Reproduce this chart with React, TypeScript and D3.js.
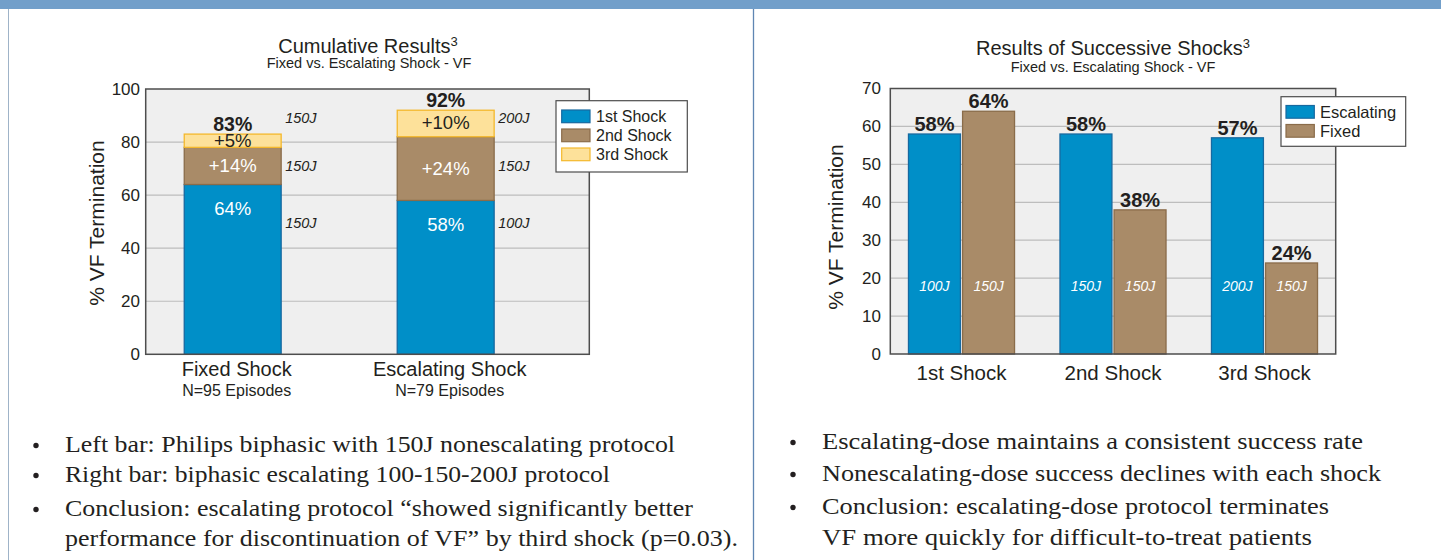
import React from 'react';
import * as d3 from 'd3';

// left chart: cumulative results
const cumCategories = ['Fixed Shock', 'Escalating Shock'];
const cumEpisodes = ['N=95 Episodes', 'N=79 Episodes'];
const cumShocks = ['1st Shock', '2nd Shock', '3rd Shock'];
const cumFirst = [64, 58];
const cumSecond = [14, 24];
const cumThird = [5, 10];
const cumDoses = [
  ['150J', '150J', '150J'],
  ['100J', '150J', '200J'],
];
const cumTicks = [0, 20, 40, 60, 80, 100];

// right chart: successive shocks
const succCategories = ['1st Shock', '2nd Shock', '3rd Shock'];
const succSeries = ['Escalating', 'Fixed'];
const succEscalating = [58, 58, 57];
const succFixed = [64, 38, 24];
const succEscDose = ['100J', '150J', '200J'];
const succFixedDose = ['150J', '150J', '150J'];
const succTicks = [0, 10, 20, 30, 40, 50, 60, 70];

const leftBullets = [
  ['Left bar: Philips biphasic with 150J nonescalating protocol'],
  ['Right bar: biphasic escalating 100-150-200J protocol'],
  ['Conclusion: escalating protocol \u201Cshowed significantly better', 'performance for discontinuation of VF\u201D by third shock (p=0.03).'],
];
const rightBullets = [
  ['Escalating-dose maintains a consistent success rate'],
  ['Nonescalating-dose success declines with each shock'],
  ['Conclusion: escalating-dose protocol terminates', 'VF more quickly for difficult-to-treat patients'],
];
// measured line widths of the bullet text in the reference
const leftWidths = [[610], [545], [628, 673]];
const rightWidths = [[541], [559], [507, 490]];

const BLUE = '#008fc8';
const BLUE_S = '#1769a0';
const BROWN = '#a98b68';
const BROWN_S = '#8a6c4a';
const YELLOW = '#fde19a';
const YELLOW_S = '#f4b82c';
const PLOT_BG = '#efefef';
const GRID = '#bdbdbd';
const INK = '#231f20';
const SANS = '"Liberation Sans", Arial, sans-serif';
const SERIF = '"Liberation Serif", "DejaVu Serif", serif';

const shockColors = [BLUE, BROWN, YELLOW];
const shockStrokes = [BLUE_S, BROWN_S, YELLOW_S];

function CumulativeChart() {
  const left = 145.7, right = 589.3, top = 89, bottom = 354.3;
  const y = d3.scaleLinear().domain([0, 100]).range([bottom, top]);
  const x = d3.scaleBand<string>().domain(cumCategories).range([left, 532.7]).paddingInner(0.545).paddingOuter(0.181);
  const rows = cumCategories.map((c, i) => ({ cat: c, s0: cumFirst[i], s1: cumSecond[i], s2: cumThird[i] }));
  const stack = d3.stack<any>().keys(['s0', 's1', 's2'])(rows);
  const doseLevels = [49.5, 71, 89];
  const bw = x.bandwidth();

  return (
    <g>
      <text x={368} y={53.3} textAnchor="middle" fontFamily={SANS} fontSize={20} fill={INK}>
        Cumulative Results<tspan dy={-7} fontSize={13}>3</tspan>
      </text>
      <text x={369} y={67.7} textAnchor="middle" fontFamily={SANS} fontSize={14.5} fill={INK}>Fixed vs. Escalating Shock - VF</text>
      <rect x={left} y={top} width={right - left} height={bottom - top} fill={PLOT_BG} />
      {cumTicks.filter(t => t > 0 && t < 100).map(t => (
        <line key={t} x1={left} x2={right} y1={y(t)} y2={y(t)} stroke={GRID} strokeWidth={1.2} />
      ))}
      {stack.map((layer, li) => layer.map((d, ci) => (
        <rect key={`${li}-${ci}`} x={x(cumCategories[ci])!} y={y(d[1])} width={bw} height={y(d[0]) - y(d[1])}
          fill={shockColors[li]} stroke={shockStrokes[li]} strokeWidth={1.3} />
      )))}
      <rect x={left} y={top} width={right - left} height={bottom - top} fill="none" stroke="#4d4d4d" strokeWidth={1.5} />
      {cumCategories.map((c, ci) => {
        const cx = x(c)! + bw / 2;
        const total = cumFirst[ci] + cumSecond[ci] + cumThird[ci];
        return (
          <g key={c} fontFamily={SANS}>
            <text x={cx} y={y(cumFirst[ci]) + 24} textAnchor="middle" dominantBaseline="central" fontSize={18.5} fill="#fff">{cumFirst[ci]}%</text>
            <text x={cx} y={y(cumFirst[ci] + cumSecond[ci] / 2)} textAnchor="middle" dominantBaseline="central" fontSize={18.5} fill="#fff">+{cumSecond[ci]}%</text>
            <text x={cx} y={y(cumFirst[ci] + cumSecond[ci] + cumThird[ci] / 2) - 0.5} textAnchor="middle" dominantBaseline="central" fontSize={18.5} fill={INK}>+{cumThird[ci]}%</text>
            <text x={cx} y={y(total) - 10.5} textAnchor="middle" dominantBaseline="central" fontSize={19.5} fontWeight="bold" fill={INK}>{total}%</text>
            {cumDoses[ci].map((dose, di) => (
              <text key={di} x={x(c)! + bw + 4} y={y(doseLevels[di])} dominantBaseline="central" fontSize={14.5} fontStyle="italic" fill={INK}>{dose}</text>
            ))}
            <text x={cx + 4} y={375.7} textAnchor="middle" fontSize={20} fill={INK}>{c}</text>
            <text x={cx + 4} y={395.7} textAnchor="middle" fontSize={16} fill={INK}>{cumEpisodes[ci]}</text>
          </g>
        );
      })}
      {cumTicks.map(t => (
        <text key={t} x={140} y={y(t)} textAnchor="end" dominantBaseline="central" fontFamily={SANS} fontSize={17} fill={INK}>{t}</text>
      ))}
      <text transform={`translate(104,223) rotate(-90)`} textAnchor="middle" fontFamily={SANS} fontSize={21} fill={INK}>% VF Termination</text>
      <g fontFamily={SANS}>
        <rect x={556} y={100.7} width={131.3} height={71.3} fill="#fff" stroke="#4d4d4d" strokeWidth={1.2} />
        {cumShocks.map((s, i) => (
          <g key={s}>
            <rect x={561.7} y={110 + i * 19} width={28.3} height={12.7} fill={shockColors[i]} stroke={shockStrokes[i]} strokeWidth={1.2} />
            <text x={596} y={116.5 + i * 19} dominantBaseline="central" fontSize={16} fill={INK}>{s}</text>
          </g>
        ))}
      </g>
    </g>
  );
}

function SuccessiveChart() {
  const left = 890.3, right = 1335.7, top = 88.5, bottom = 354;
  const y = d3.scaleLinear().domain([0, 70]).range([bottom, top]);
  const x0 = d3.scaleBand<string>().domain(succCategories).range([left, right]).paddingInner(0.3).paddingOuter(0.12);
  const x1 = d3.scaleBand<string>().domain(succSeries).range([0, x0.bandwidth()]).paddingInner(0.04);
  const values = [succEscalating, succFixed];
  const doses = [succEscDose, succFixedDose];
  const colors = [BLUE, BROWN];
  const strokes = [BLUE_S, BROWN_S];
  const cx = 1113;

  return (
    <g>
      <text x={cx} y={55} textAnchor="middle" fontFamily={SANS} fontSize={20} fill={INK}>
        Results of Successive Shocks<tspan dy={-7} fontSize={13}>3</tspan>
      </text>
      <text x={cx} y={72} textAnchor="middle" fontFamily={SANS} fontSize={14.5} fill={INK}>Fixed vs. Escalating Shock - VF</text>
      <rect x={left} y={top} width={right - left} height={bottom - top} fill={PLOT_BG} />
      {succTicks.filter(t => t > 0 && t < 70).map(t => (
        <line key={t} x1={left} x2={right} y1={y(t)} y2={y(t)} stroke={GRID} strokeWidth={1.2} />
      ))}
      {succCategories.map((c, ci) => (
        <g key={c} fontFamily={SANS}>
          {succSeries.map((s, si) => {
            const bx = x0(c)! + x1(s)!;
            const v = values[si][ci];
            return (
              <g key={s}>
                <rect x={bx} y={y(v)} width={x1.bandwidth()} height={bottom - y(v)} fill={colors[si]} stroke={strokes[si]} strokeWidth={1.3} />
                <text x={bx + x1.bandwidth() / 2} y={y(v) - 3} textAnchor="middle" fontSize={20} fontWeight="bold" fill={INK}>{v}%</text>
                <text x={bx + x1.bandwidth() / 2} y={y(18)} textAnchor="middle" dominantBaseline="central" fontSize={14} fontStyle="italic" fill="#fff">{doses[si][ci]}</text>
              </g>
            );
          })}
          <text x={x0(c)! + x0.bandwidth() / 2} y={380} textAnchor="middle" fontSize={20.5} fill={INK}>{c}</text>
        </g>
      ))}
      <rect x={left} y={top} width={right - left} height={bottom - top} fill="none" stroke="#4d4d4d" strokeWidth={1.5} />
      {succTicks.map(t => (
        <text key={t} x={881} y={y(t)} textAnchor="end" dominantBaseline="central" fontFamily={SANS} fontSize={17} fill={INK}>{t}</text>
      ))}
      <text transform={`translate(843,227) rotate(-90)`} textAnchor="middle" fontFamily={SANS} fontSize={21} fill={INK}>% VF Termination</text>
      <g fontFamily={SANS}>
        <rect x={1281} y={96.7} width={124.7} height={49.6} fill="#fff" stroke="#4d4d4d" strokeWidth={1.2} />
        {succSeries.map((s, i) => (
          <g key={s}>
            <rect x={1286} y={105.5 + i * 19} width={28.3} height={12.7} fill={colors[i]} stroke={strokes[i]} strokeWidth={1.2} />
            <text x={1320} y={112 + i * 19} dominantBaseline="central" fontSize={16.5} fill={INK}>{s}</text>
          </g>
        ))}
      </g>
    </g>
  );
}

function Bullets({ items, widths, bx, tx, y0, lineH, gaps }: { items: string[][]; widths: number[][]; bx: number; tx: number; y0: number; lineH: number; gaps: number[] }) {
  let yy = y0;
  const out: React.ReactNode[] = [];
  items.forEach((lines, i) => {
    yy += gaps[i];
    out.push(<circle key={`b${i}`} cx={bx} cy={yy - 6.5} r={2.7} fill={INK} />);
    lines.forEach((ln, j) => {
      out.push(
        <text key={`t${i}-${j}`} x={tx} y={yy} fontFamily={SERIF} fontSize={23.5} fill={INK}
          textLength={widths[i][j]} lengthAdjust="spacingAndGlyphs">{ln}</text>
      );
      yy += lineH;
    });
  });
  return <g>{out}</g>;
}

export default function App() {
  return (
    <svg width={1441} height={560} style={{ position: 'absolute', left: 0, top: 0, background: '#fff' }}>
      <rect x={0} y={0} width={1441} height={9} fill="#729fca" />
      <line x1={8.5} x2={8.5} y1={9} y2={560} stroke="#9fb3c8" strokeWidth={1} />
      <line x1={753.5} x2={753.5} y1={9} y2={560} stroke="#5f86b3" strokeWidth={1.3} />
      <CumulativeChart />
      <SuccessiveChart />
      <Bullets items={leftBullets} widths={leftWidths} bx={36} tx={65} y0={452} lineH={30} gaps={[0, 0, 4]} />
      <Bullets items={rightBullets} widths={rightWidths} bx={793} tx={822} y0={449} lineH={31} gaps={[0, 1, 2]} />
    </svg>
  );
}
